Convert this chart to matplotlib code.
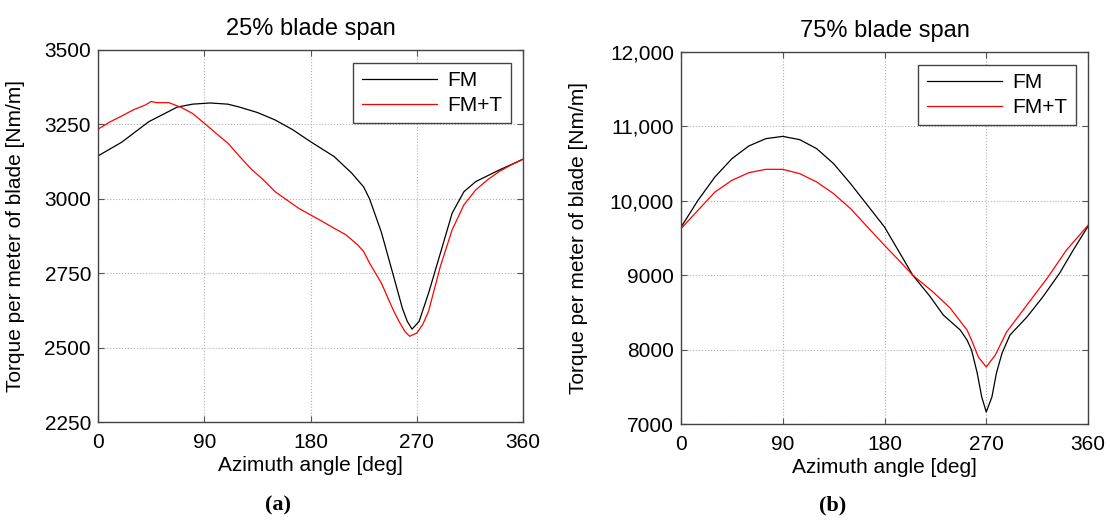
import numpy as np
import matplotlib
matplotlib.use('Agg')
import matplotlib.pyplot as plt

plt.rcParams['font.family'] = ['Liberation Sans', 'DejaVu Sans']

# 25% blade span
az_a_fm = [0, 20, 43, 67, 80, 95, 110, 120, 135, 150, 165, 180, 200, 215, 225, 230, 240, 250,
           258, 262, 266, 272, 280, 290, 300, 310, 320, 340, 360]
fm_a = [3144, 3190, 3259, 3308, 3318, 3322, 3318, 3308, 3290, 3265, 3232, 3192, 3142, 3086, 3040,
        3000, 2888, 2745, 2630, 2588, 2562, 2588, 2683, 2817, 2952, 3024, 3058, 3097, 3133]
az_a_fmt = [0, 10, 20, 30, 40, 45, 50, 60, 70, 80, 90, 100, 110, 120, 130, 140, 150, 160, 170,
            180, 190, 200, 210, 220, 225, 230, 240, 250, 255, 260, 264, 270, 275, 280, 290, 300,
            310, 320, 330, 340, 350, 360]
fmt_a = [3234, 3258, 3278, 3299, 3315, 3327, 3323, 3323, 3308, 3287, 3254, 3220, 3187, 3142,
         3099, 3064, 3024, 2996, 2968, 2946, 2924, 2901, 2879, 2845, 2823, 2784, 2717, 2627,
         2588, 2554, 2538, 2549, 2577, 2622, 2773, 2896, 2980, 3030, 3064, 3092, 3114, 3133]

# 75% blade span
az_b_fm = [0, 15, 30, 45, 60, 75, 90, 105, 120, 135, 150, 165, 180, 195, 205, 220, 232, 247,
           253, 257, 262, 266, 270, 275, 279, 284, 291, 306, 320, 335, 347, 360]
fm_b = [9645, 10006, 10320, 10566, 10737, 10835, 10866, 10822, 10701, 10499, 10230, 9939,
        9648, 9260, 9000, 8720, 8465, 8263, 8129, 7995, 7685, 7363, 7161, 7363, 7685, 7954,
        8196, 8438, 8707, 9030, 9339, 9657]
az_b_fmt = [0, 15, 30, 45, 60, 75, 90, 105, 120, 135, 150, 165, 180, 194, 205, 223, 238, 253,
            257, 263, 270, 278, 288, 306, 324, 341, 360]
fmt_b = [9626, 9872, 10118, 10275, 10378, 10423, 10423, 10365, 10253, 10096, 9894, 9648,
         9401, 9180, 9000, 8774, 8559, 8263, 8129, 7900, 7766, 7927, 8237, 8600, 8962, 9339,
         9670]

x_ticks = [0, 90, 180, 270, 360]
yticks_a = [2250, 2500, 2750, 3000, 3250, 3500]
yticks_b = [7000, 8000, 9000, 10000, 11000, 12000]
ylabels_b = ['7000', '8000', '9000', '10,000', '11,000', '12,000']

fig = plt.figure(figsize=(11.1, 5.2), dpi=100)
ax1 = fig.add_axes([98/1110, 98/520, 425/1110, 372/520])
ax2 = fig.add_axes([681/1110, 96/520, 407/1110, 372/520])

panels = [
    (ax1, az_a_fm, fm_a, az_a_fmt, fmt_a, yticks_a, None, '25% blade span', '(a)', 0.25, -0.172),
    (ax2, az_b_fm, fm_b, az_b_fmt, fmt_b, yticks_b, ylabels_b, '75% blade span', '(b)', 0.75, -0.229),
]

for ax, x1, y1, x2, y2, yt, ylab, title, tag, tagx, ylx in panels:
    ax.plot(x1, y1, color='black', lw=0.9, label='FM')
    ax.plot(x2, y2, color='red', lw=0.9, label='FM+T')
    ax.set_xlim(0, 360)
    ax.set_ylim(yt[0], yt[-1])
    ax.set_xticks(x_ticks)
    ax.set_yticks(yt)
    if ylab is not None:
        ax.set_yticklabels(ylab)
    ax.grid(True, linestyle=':', color='#b0b0b0', lw=0.8)
    ax.tick_params(direction='in', top=True, right=True, labelsize=15, length=4,
                   color='#555555')
    ax.tick_params(axis='x', pad=8)
    ax.tick_params(axis='y', pad=5)
    for s in ax.spines.values():
        s.set_color('#444444')
        s.set_linewidth(1.0)
    ax.set_title(title, fontsize=17, pad=11)
    ax.set_xlabel('Azimuth angle [deg]', fontsize=15, labelpad=3)
    ax.set_ylabel('Torque per meter of blade [Nm/m]', fontsize=15)
    ax.yaxis.set_label_coords(ylx, 0.5)
    leg = ax.legend(loc='upper right', fontsize=15, fancybox=False, handlelength=3.6,
                    borderaxespad=0.6, framealpha=1, borderpad=0.4, handletextpad=0.5,
                    labelspacing=0.3)
    leg.get_frame().set_edgecolor('#444444')
    leg.get_frame().set_linewidth(1.0)
    fig.text(tagx, 15/520, tag, ha='center', va='center',
             fontsize=16, fontweight='bold', family='Liberation Serif')

fig.savefig('out.png', dpi=100)
